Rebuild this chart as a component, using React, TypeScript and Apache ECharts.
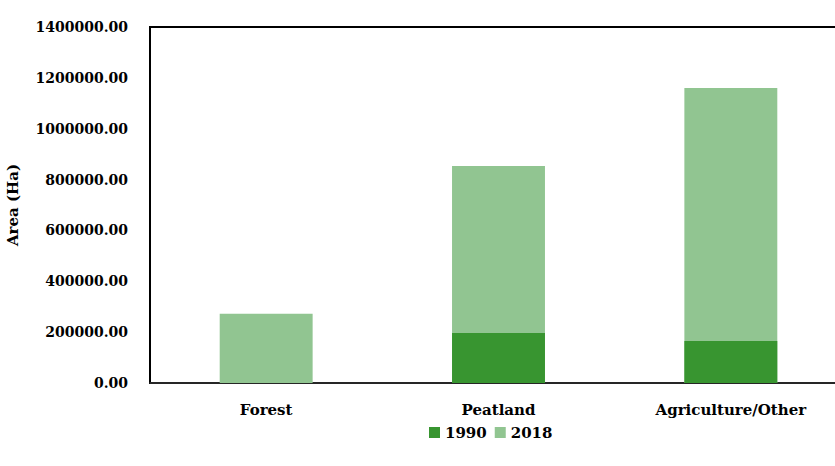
import React, { useEffect, useRef } from "react";
import * as echarts from "echarts";

const categories = ["Forest", "Peatland", "Agriculture/Other"];
const seriesNames = ["1990", "2018"];
const values1990 = [0, 197000, 165000];
const values2018 = [272000, 853000, 1160000];
const colors = ["#389530", "#91C591"];

export default function App() {
  const ref = useRef<HTMLDivElement>(null);
  useEffect(() => {
    if (!ref.current) return;
    const chart = echarts.init(ref.current, undefined, { renderer: "svg" });
    const font = "'DejaVu Serif', 'Liberation Serif', serif";
    chart.setOption({
      animation: false,
      textStyle: { fontFamily: font, fontWeight: "bold", color: "#000" },
      grid: {
        left: 150,
        right: 13,
        top: 27,
        bottom: 83,
        outerBoundsMode: "none",
        show: true,
        borderColor: "#000",
        borderWidth: 2,
        backgroundColor: "transparent",
      },
      legend: {
        data: seriesNames,
        icon: "rect",
        left: 424,
        top: 420,
        itemWidth: 11,
        itemHeight: 11,
        itemGap: 8,
        textStyle: { fontFamily: font, fontWeight: "bold", fontSize: 15, color: "#000" },
      },
      xAxis: {
        type: "category",
        data: categories,
        axisLine: { lineStyle: { color: "#333", width: 1.5 } },
        axisTick: { show: false },
        axisLabel: { margin: 19, fontFamily: font, fontWeight: "bold", fontSize: 15, color: "#000" },
      },
      yAxis: {
        type: "value",
        min: 0,
        max: 1400000,
        interval: 200000,
        name: "Area (Ha)",
        nameLocation: "middle",
        nameGap: 130,
        nameTextStyle: { fontFamily: font, fontWeight: "bold", fontSize: 15, color: "#000" },
        axisLine: { show: true, lineStyle: { color: "#000", width: 2 } },
        axisTick: { show: false },
        splitLine: { show: false },
        axisLabel: {
          margin: 22,
          fontFamily: font,
          fontWeight: "bold",
          fontSize: 14,
          color: "#000",
          formatter: (v: number) => v.toFixed(2),
        },
      },
      series: [
        {
          name: seriesNames[0],
          type: "bar",
          data: values1990,
          barWidth: "40%",
          barGap: "-100%",
          z: 3,
          itemStyle: { color: colors[0] },
        },
        {
          name: seriesNames[1],
          type: "bar",
          data: values2018,
          barWidth: "40%",
          barGap: "-100%",
          z: 2,
          itemStyle: { color: colors[1] },
        },
      ],
    });
    return () => chart.dispose();
  }, []);
  return (
    <div
      ref={ref}
      style={{ position: "fixed", left: 0, top: 0, width: 860, height: 466, background: "#fff" }}
    />
  );
}
